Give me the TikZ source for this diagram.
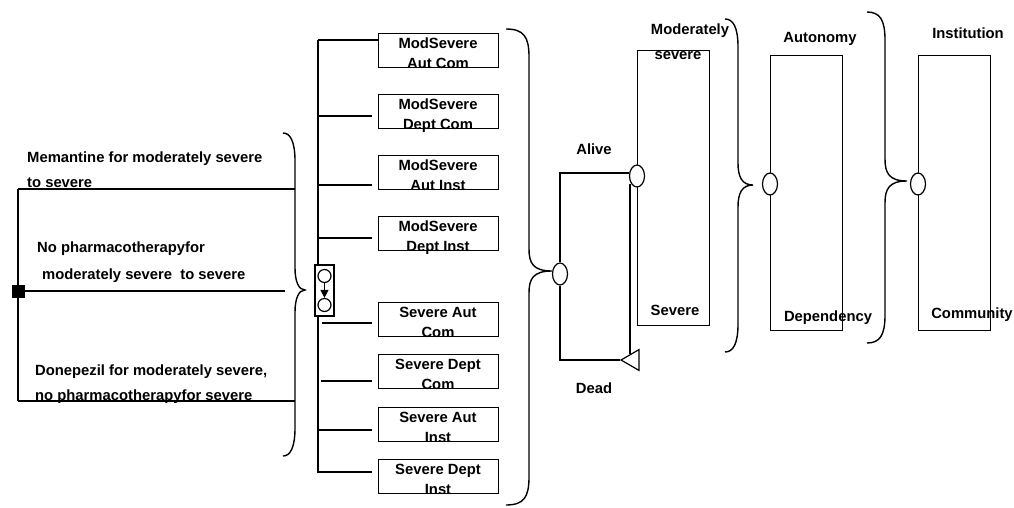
\documentclass[tikz,border=0pt]{standalone}
\usepackage{fontspec}
\setmainfont{Liberation Sans}
\usetikzlibrary{shapes.geometric,arrows.meta,calc}
\tikzset{
  ln/.style={line width=1.4pt},
  br/.style={line width=1.4pt},
  lbl/.style={font=\fontsize{14.8}{18}\selectfont\bfseries, inner sep=0pt},
  statebox/.style={draw, line width=1.4pt, fill=white, minimum width=120pt, minimum height=34pt, inner sep=0pt},
  tallbox/.style={draw, line width=1.4pt, minimum width=72pt, minimum height=275pt, inner sep=0pt},
  chance/.style={draw, ellipse, line width=1.2pt, fill=white, minimum width=15pt, minimum height=22pt, inner sep=0pt},
  smallc/.style={draw, circle, line width=1.2pt, fill=white, minimum size=13pt, inner sep=0pt},
}
\newcommand{\BrR}[6]{%
\draw[br] (#1,#4) .. controls ({#2-5},#4) and (#2,{#4+8}) .. (#2,{#4+28}) -- (#2,{#5-22})
  .. controls (#2,{#5-8}) and ({#2+4},#5) .. (#3,#5)
  .. controls ({#2+4},#5) and (#2,{#5+8}) .. (#2,{#5+22}) -- (#2,{#6-28})
  .. controls (#2,{#6-8}) and ({#2-5},#6) .. (#1,#6);}
\begin{document}
\begin{tikzpicture}[x=1pt,y=-1pt]
\useasboundingbox (0,0) rectangle (1014,507);

% ---- left decision part
\draw[ln] (18,189) -- (295,189);
\draw[ln] (18,401) -- (295,401);
\draw[ln] (18,189) -- (18,401);
\node[draw, fill=black, minimum size=12pt, inner sep=0pt] (sq) at (18,291) {};
\coordinate (midend) at (285,291);
\draw[ln] (sq) -- (midend);

\node[lbl, anchor=base west] (t1a) at (27,162) {Memantine for moderately severe};
\node[lbl, anchor=base west] (t1b) at (27,187) {to severe};
\node[lbl, anchor=base west] (t2a) at (37,252) {No pharmacotherapyfor};
\node[lbl, anchor=base west] (t2b) at (42,279) {moderately severe\ \ to severe};
\node[lbl, anchor=base west] (t3a) at (35,375) {Donepezil for moderately severe,};
\node[lbl, anchor=base west] (t3b) at (35,400) {no pharmacotherapyfor severe};

\BrR{283}{295}{305}{133}{290}{456}

% ---- trunk and Markov node
\coordinate (tt) at (318,40);
\coordinate (tb) at (318,473);
\draw[ln] (tt) -- (tb);

% ---- state boxes
\foreach \i/\top/\ly/\lx/\a/\b in {
  1/33/40/318/ModSevere/Aut Com,
  2/94/116/318/ModSevere/Dept Com,
  3/155/185/318/ModSevere/Aut Inst,
  4/216/238/318/ModSevere/Dept Inst,
  5/302/323/322/Severe Aut/Com,
  6/354/381/321/Severe Dept/Com,
  7/407/430/318/Severe Aut/Inst,
  8/459/472/318/Severe Dept/Inst}{
  \node[statebox, anchor=north west] (b\i) at (378,\top) {};
  \coordinate (j\i) at (\lx,\ly);
  \node[lbl, anchor=base] (b\i a) at (438,\top+15) {\a};
  \node[lbl, anchor=base] (b\i b) at (438,\top+35) {\b};
}
\draw[ln] (j1) -- (b1.west |- j1);
\foreach \i in {2,...,8}{
  \draw[ln] (j\i) -- ([xshift=-6pt]b\i.west |- j\i);
}

\node[draw, line width=1.4pt, fill=white, minimum width=19pt, minimum height=51pt, inner sep=0pt] (mk) at (324.5,290.5) {};
\node[smallc] (mc1) at (324.5,276) {};
\node[smallc] (mc2) at (324.5,305) {};
\draw[line width=1.2pt, -{Triangle[length=8pt,width=8pt]}] (mc1.south) -- (mc2.north);

% ---- alive / dead
\BrR{506}{529}{552}{29}{271}{505}
\node[tallbox, anchor=north west] (ms) at (637,50) {};
\node[chance] (c1) at (560,274) {};
\node[chance] (c2) at (637,176) {};
\node[draw, isosceles triangle, shape border rotate=180, isosceles triangle apex angle=60,
      line width=1.2pt, fill=white, minimum height=18pt, inner sep=0pt] (tri) at (633,360) {};
\draw[ln] (c1.north) |- (c2.west |- 0,173);
\draw[ln] (c1.south) |- (tri.west);
\coordinate (dn) at (630,354);
\draw[ln] (c2.south west -| dn) -- (dn);

\node[lbl, anchor=base] (alive) at (594,154) {Alive};
\node[lbl, anchor=base] (dead) at (594,393) {Dead};
\node[lbl, anchor=base] (mod1) at (690,34) {Moderately};
\node[lbl, anchor=base] (mod2) at (678,59) {severe};
\node[lbl, anchor=base] (sev) at (675,315) {Severe};

% ---- autonomy / dependency
\BrR{725}{738}{753}{19}{185}{352}
\node[tallbox, anchor=north west] (au) at (770,55) {};
\node[chance] (c3) at (770,184) {};
\node[lbl, anchor=base] (aut) at (820,42) {Autonomy};
\node[lbl, anchor=base] (dep) at (828,321) {Dependency};

% ---- institution / community
\BrR{867}{885}{907}{12}{181}{343}
\node[tallbox, anchor=north west] (in) at (918,55) {};
\node[chance] (c4) at (918,184) {};
\node[lbl, anchor=base] (ins) at (968,38) {Institution};
\node[lbl, anchor=base] (com) at (972,318) {Community};
\end{tikzpicture}
\end{document}
